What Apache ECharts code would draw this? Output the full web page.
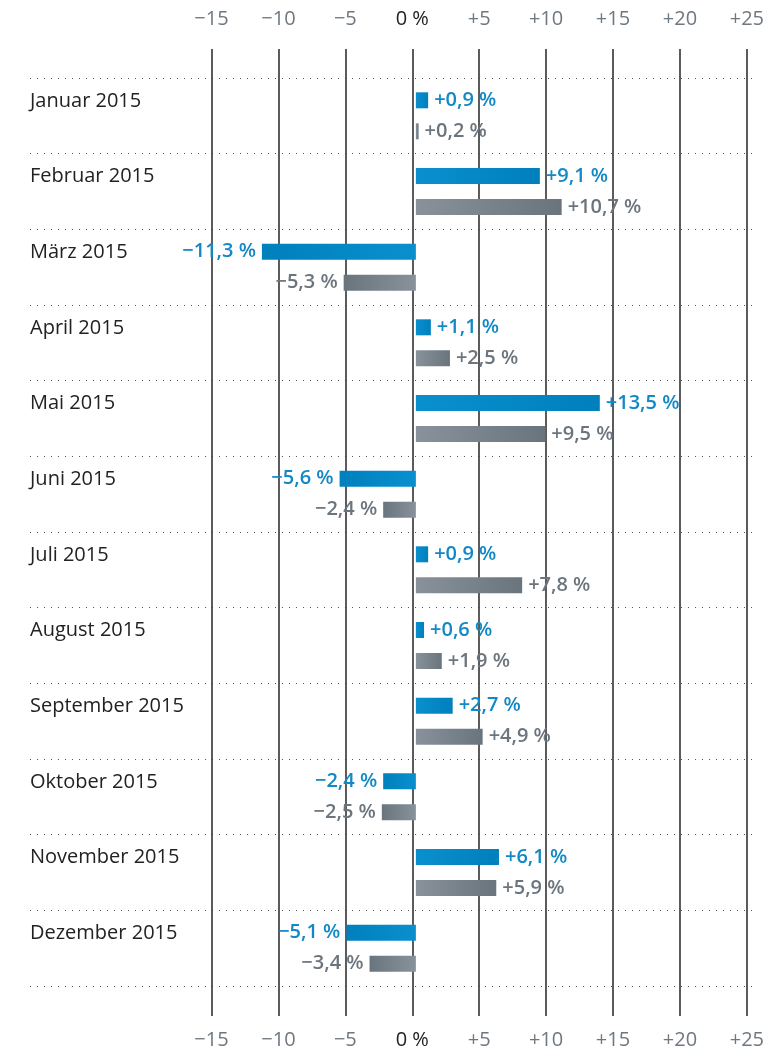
<!DOCTYPE html>
<html>
<head>
<meta charset="utf-8">
<script src="https://cdn.jsdelivr.net/npm/echarts@6/dist/echarts.min.js"></script>
<style>
  html, body { margin: 0; padding: 0; background: #fff; }
  #chart { width: 767px; height: 1052px; }
</style>
</head>
<body>
<div id="chart"></div>
<script type="text/javascript">
  var months = ['Januar 2015', 'Februar 2015', 'März 2015', 'April 2015', 'Mai 2015', 'Juni 2015',
    'Juli 2015', 'August 2015', 'September 2015', 'Oktober 2015', 'November 2015', 'Dezember 2015'];
  var blueValues = [0.9, 9.1, -11.3, 1.1, 13.5, -5.6, 0.9, 0.6, 2.7, -2.4, 6.1, -5.1];
  var grayValues = [0.2, 10.7, -5.3, 2.5, 9.5, -2.4, 7.8, 1.9, 4.9, -2.5, 5.9, -3.4];
  var tickMin = -15, tickMax = 25, tickStep = 5;

  var font = '"Open Sans", "Noto Sans", sans-serif';

  function fmtTick(v) {
    if (v === 0) return '{zero|0 %}';
    return v < 0 ? '\u2212' + Math.abs(v) : '+' + v;
  }
  function fmtVal(v) {
    var s = Math.abs(v).toFixed(1).replace('.', ',');
    return (v < 0 ? '\u2212' : '+') + s + ' %';
  }
  function grad(v, light, dark) {
    // lighter at zero line, darker at bar end
    var pos = v >= 0;
    return new echarts.graphic.LinearGradient(0, 0, 1, 0, [
      { offset: 0, color: pos ? light : dark },
      { offset: 1, color: pos ? dark : light }
    ]);
  }
  function barData(values, light, dark) {
    return values.map(function (v) {
      return {
        value: v,
        itemStyle: { color: grad(v, light, dark) },
        label: { position: v < 0 ? 'left' : 'right' }
      };
    });
  }

  var tickLabel = {
    color: '#6f7880', fontFamily: font, fontSize: 20,
    formatter: fmtTick,
    rich: { zero: { color: '#222', fontFamily: font, fontSize: 20 } }
  };

  var option = {
    animation: false,
    backgroundColor: '#fff',
    grid: [
      { left: 211.5, right: 10.5, top: 49, bottom: 36 },
      { left: 30, right: 10, top: 78, bottom: 66 },
      { left: 211.5, right: 10.5, top: 78, bottom: 66 }
    ],
    xAxis: [
      {
        gridIndex: 0, type: 'value', position: 'top', min: tickMin, max: tickMax, interval: tickStep,
        axisLine: { show: false }, axisTick: { show: false },
        axisLabel: Object.assign({ margin: 20 }, tickLabel),
        splitLine: { show: true, lineStyle: { color: '#333', width: 1.6 } }
      },
      {
        gridIndex: 0, type: 'value', position: 'bottom', min: tickMin, max: tickMax, interval: tickStep,
        axisLine: { show: false }, axisTick: { show: false },
        axisLabel: Object.assign({ margin: 14 }, tickLabel),
        splitLine: { show: false }
      },
      { gridIndex: 1, type: 'value', min: 0, max: 1, show: false },
      { gridIndex: 2, type: 'value', min: tickMin, max: tickMax, show: false }
    ],
    yAxis: [
      { gridIndex: 0, type: 'value', min: 0, max: 1, show: false },
      {
        gridIndex: 1, type: 'category', data: months, inverse: true,
        axisLine: { show: false }, axisTick: { show: false },
        axisLabel: {
          inside: true, margin: 0, align: 'left', verticalAlign: 'middle',
          lineHeight: 30,
          formatter: function (v) { return v + '\n '; },
          color: '#222', fontFamily: font, fontSize: 20
        },
        splitLine: { show: true, lineStyle: { color: '#555', width: 1, type: [1, 6] } }
      },
      { gridIndex: 2, type: 'category', data: months, inverse: true, show: false }
    ],
    series: [
      {
        type: 'bar', xAxisIndex: 3, yAxisIndex: 2, barWidth: 16, barGap: '94%',
        data: barData(blueValues, '#0a8fce', '#0080bd'),
        label: {
          show: true, distance: 6, formatter: function (p) { return fmtVal(p.value); },
          color: '#1288c6', fontFamily: font, fontSize: 20, fontWeight: 600
        }
      },
      {
        type: 'bar', xAxisIndex: 3, yAxisIndex: 2, barWidth: 16,
        data: barData(grayValues, '#89929b', '#69747d'),
        label: {
          show: true, distance: 6, formatter: function (p) { return fmtVal(p.value); },
          color: '#6c757d', fontFamily: font, fontSize: 20, fontWeight: 600
        }
      }
    ]
  };

  var myChart = echarts.init(document.getElementById('chart'));
  myChart.setOption(option);
</script>
</body>
</html>
